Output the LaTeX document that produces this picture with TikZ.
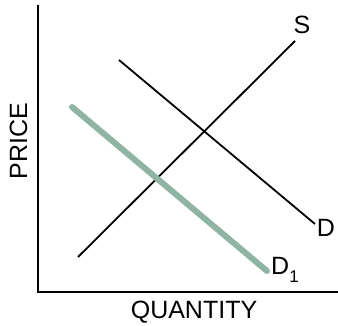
\documentclass[tikz,border=0pt]{standalone}
\usepackage{fontspec}
\setmainfont{Liberation Sans}
\definecolor{dgreen}{RGB}{143,180,163}
\begin{document}
\begin{tikzpicture}[x=1pt,y=-1pt,
  axis/.style={line width=2pt},
  curve/.style={line width=1.8pt},
  shifted/.style={line width=6pt,color=dgreen,line cap=round},
  lbl/.style={inner sep=0pt,font=\fontsize{25}{30}\selectfont}]
\useasboundingbox (0,0) rectangle (338,326);
\coordinate (top) at (38,5);
\coordinate (origin) at (38,292);
\coordinate (right) at (338,292);
\draw[axis] (top) -- (origin) -- (right);
% S
\coordinate (s1) at (78,257);
\coordinate (s2) at (295,41);
\draw[curve] (s1) -- (s2);
% D
\coordinate (d1) at (119,60);
\coordinate (d2) at (315,224);
\draw[curve] (d1) -- (d2);
% D1
\coordinate (e1) at (72,107);
\coordinate (e2) at (267,271);
\draw[shifted] (e1) -- (e2);
\node[lbl] (S) at (302,24.5) {S};
\node[lbl] (D) at (326,228) {D};
\node[lbl,anchor=west] (D1) at (271,270) {D\raisebox{-0.3em}{\fontsize{17}{20}\selectfont 1}};
\node[lbl] (Q) at (194,312) {QUANTITY};
\node[lbl,rotate=90] (P) at (18.5,141) {PRICE};
\end{tikzpicture}
\end{document}
